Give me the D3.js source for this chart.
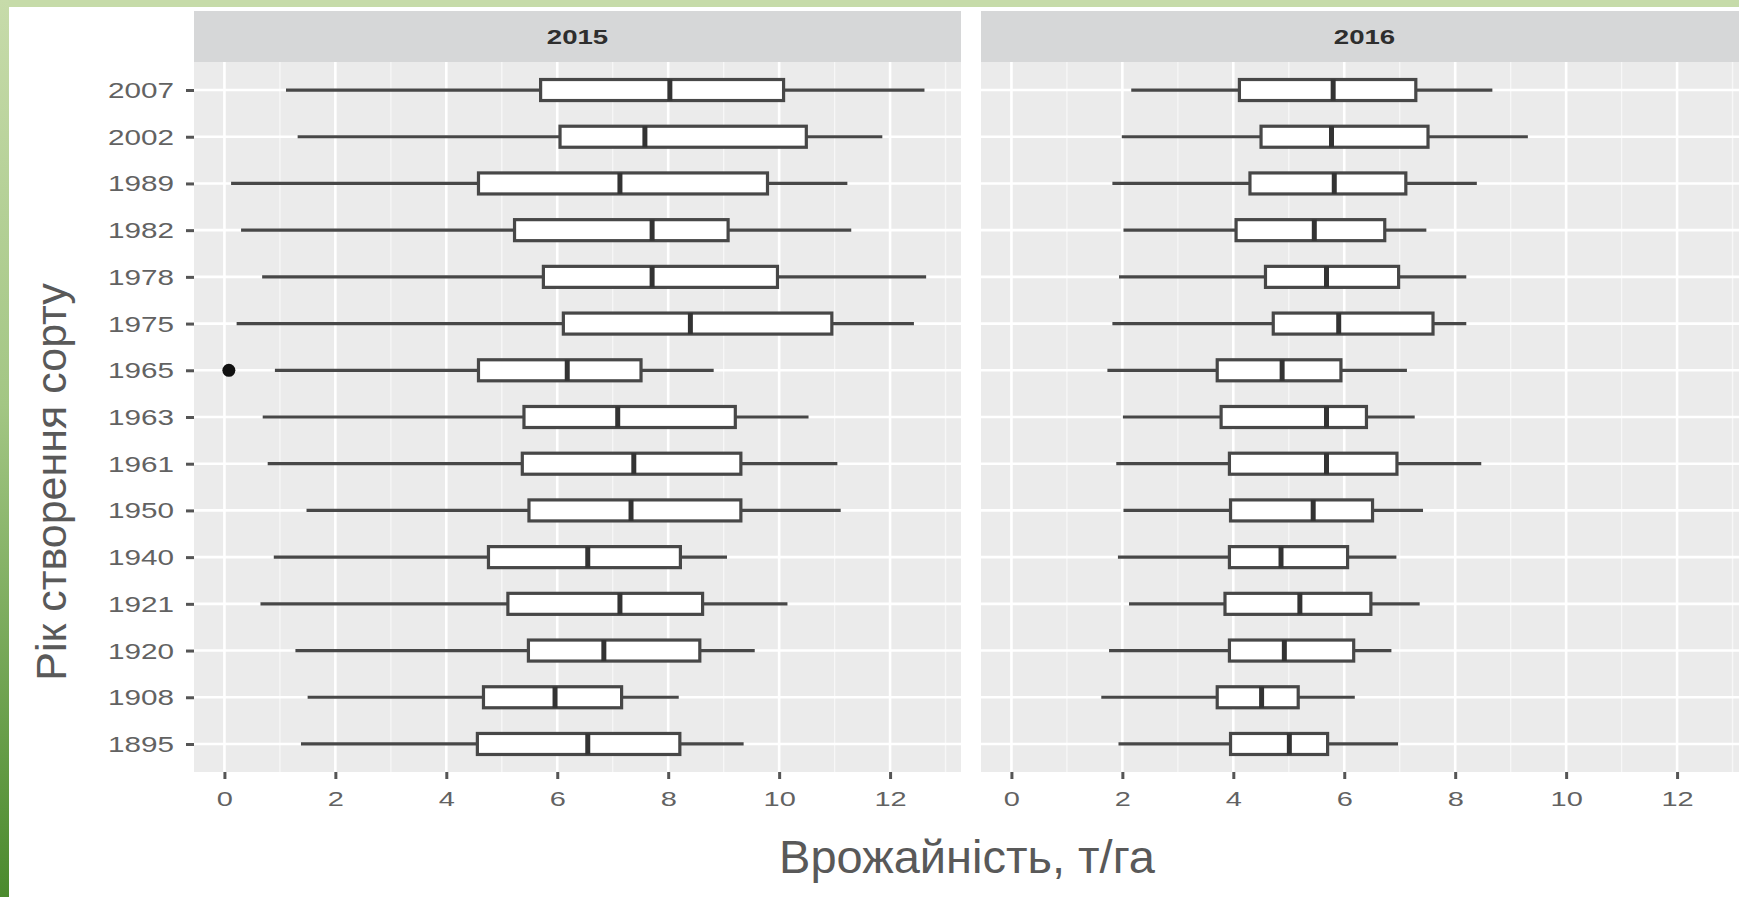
<!DOCTYPE html>
<html>
<head>
<meta charset="utf-8">
<script src="https://cdn.jsdelivr.net/npm/d3@7"></script>
<style>
  html, body { margin: 0; padding: 0; background: #ffffff; overflow: hidden; }
  svg { display: block; }
</style>
</head>
<body>
<svg id="chart" width="1739" height="897"></svg>
<script>
// Varieties by year of release, top to bottom
const varieties = ["2007", "2002", "1989", "1982", "1978", "1975", "1965", "1963",
                   "1961", "1950", "1940", "1921", "1920", "1908", "1895"];

// 2015 season: whisker ends, quartiles and medians (t/ha)
const low2015    = [1.11, 1.32, 0.12, 0.30, 0.68, 0.22, 0.91, 0.69, 0.78, 1.48, 0.89, 0.65, 1.28, 1.50, 1.38];
const q1_2015    = [5.70, 6.05, 4.58, 5.23, 5.75, 6.11, 4.58, 5.40, 5.37, 5.49, 4.76, 5.11, 5.48, 4.67, 4.56];
const median2015 = [8.03, 7.58, 7.13, 7.71, 7.71, 8.40, 6.18, 7.09, 7.38, 7.33, 6.55, 7.13, 6.84, 5.96, 6.55];
const q3_2015    = [10.08, 10.49, 9.79, 9.08, 9.97, 10.95, 7.51, 9.21, 9.31, 9.31, 8.22, 8.62, 8.57, 7.16, 8.21];
const high2015   = [12.62, 11.86, 11.23, 11.30, 12.65, 12.43, 8.82, 10.53, 11.05, 11.11, 9.06, 10.15, 9.56, 8.19, 9.36];
const outlierVariety2015 = ["1965"];
const outlierValue2015   = [0.08];

// 2016 season
const low2016    = [2.16, 1.99, 1.82, 2.02, 1.94, 1.82, 1.73, 2.01, 1.89, 2.02, 1.92, 2.12, 1.76, 1.62, 1.93];
const q1_2016    = [4.11, 4.50, 4.30, 4.05, 4.58, 4.72, 3.71, 3.78, 3.93, 3.95, 3.93, 3.85, 3.93, 3.71, 3.95];
const median2016 = [5.80, 5.77, 5.82, 5.46, 5.68, 5.90, 4.88, 5.68, 5.68, 5.44, 4.86, 5.20, 4.92, 4.51, 5.01];
const q3_2016    = [7.29, 7.51, 7.11, 6.73, 6.98, 7.60, 5.94, 6.40, 6.95, 6.51, 6.06, 6.48, 6.17, 5.17, 5.70];
const high2016   = [8.67, 9.31, 8.39, 7.48, 8.20, 8.20, 7.13, 7.27, 8.47, 7.42, 6.94, 7.36, 6.85, 6.19, 6.97];
const outlierVariety2016 = [];
const outlierValue2016   = [];

const facetLabels = ["2015", "2016"];
const xTicks = [0, 2, 4, 6, 8, 10, 12];
const xMinorTicks = [1, 3, 5, 7, 9, 11, 13];
const xTitle = "Врожайність, т/га";
const yTitle = "Рік створення сорту";

// ---- assemble per-facet records ----
function buildFacet(label, lo, q1, med, q3, hi, outV, outX) {
  return {
    label,
    boxes: varieties.map((v, i) => ({ variety: v, lo: lo[i], q1: q1[i], med: med[i], q3: q3[i], hi: hi[i] })),
    outliers: outV.map((v, i) => ({ variety: v, value: outX[i] }))
  };
}
const facets = [
  buildFacet(facetLabels[0], low2015, q1_2015, median2015, q3_2015, high2015, outlierVariety2015, outlierValue2015),
  buildFacet(facetLabels[1], low2016, q1_2016, median2016, q3_2016, high2016, outlierVariety2016, outlierValue2016)
];

// ---- layout ----
const W = 1739, H = 897;
const stripTop = 11, panelTop = 62, panelBottom = 772;
const panelX = [[194, 961], [981, 1748]];
const textStretch = 1.38;   // ggplot text in this figure is drawn horizontally widened

const svg = d3.select("#chart");

// slide frame: light top band and green left band
const defs = svg.append("defs");
const grad = defs.append("linearGradient").attr("id", "frameGrad")
  .attr("x1", 0).attr("y1", 0).attr("x2", 0).attr("y2", 1);
grad.append("stop").attr("offset", "0%").attr("stop-color", "#c7dbaa");
grad.append("stop").attr("offset", "45%").attr("stop-color", "#a3c684");
grad.append("stop").attr("offset", "100%").attr("stop-color", "#4b8a2d");
svg.append("rect").attr("x", 0).attr("y", 0).attr("width", W).attr("height", 7).attr("fill", "#c6dba9");
svg.append("rect").attr("x", 0).attr("y", 0).attr("width", 9).attr("height", H).attr("fill", "url(#frameGrad)");

// shared x domain with 5% expansion, as in facet plots with a common scale
const allVals = [];
facets.forEach(f => {
  f.boxes.forEach(b => allVals.push(b.lo, b.hi));
  f.outliers.forEach(o => allVals.push(o.value));
});
const [vmin, vmax] = d3.extent(allVals);
const pad = (vmax - vmin) * 0.05;
const xDomain = [vmin - pad, vmax + pad];

const y = d3.scalePoint().domain(varieties).range([panelTop, panelBottom]).padding(0.6);
const boxH = y.step() * 0.45;

const lineCol = "#474747";
const labelFont = "'Liberation Sans', Arial, sans-serif";

facets.forEach((f, fi) => {
  const [x0, x1] = panelX[fi];
  const x = d3.scaleLinear().domain(xDomain).range([x0, x1]);
  const g = svg.append("g");

  // panel background
  g.append("rect").attr("x", x0).attr("y", panelTop)
    .attr("width", x1 - x0).attr("height", panelBottom - panelTop).attr("fill", "#ebebeb");

  // minor vertical grid
  g.selectAll(".minor").data(xMinorTicks.filter(t => t > xDomain[0] && t < xDomain[1]))
    .join("line").attr("x1", d => x(d)).attr("x2", d => x(d))
    .attr("y1", panelTop).attr("y2", panelBottom)
    .attr("stroke", "#f7f7f7").attr("stroke-width", 1.3);
  // major vertical grid
  g.selectAll(".major").data(xTicks)
    .join("line").attr("x1", d => x(d)).attr("x2", d => x(d))
    .attr("y1", panelTop).attr("y2", panelBottom)
    .attr("stroke", "#ffffff").attr("stroke-width", 2.6);
  // horizontal grid at each variety
  g.selectAll(".hgrid").data(varieties)
    .join("line").attr("x1", x0).attr("x2", x1)
    .attr("y1", d => y(d)).attr("y2", d => y(d))
    .attr("stroke", "#ffffff").attr("stroke-width", 2.6);

  // whiskers
  g.selectAll(".wlo").data(f.boxes).join("line")
    .attr("x1", d => x(d.lo)).attr("x2", d => x(d.q1))
    .attr("y1", d => y(d.variety)).attr("y2", d => y(d.variety))
    .attr("stroke", lineCol).attr("stroke-width", 3.2);
  g.selectAll(".whi").data(f.boxes).join("line")
    .attr("x1", d => x(d.q3)).attr("x2", d => x(d.hi))
    .attr("y1", d => y(d.variety)).attr("y2", d => y(d.variety))
    .attr("stroke", lineCol).attr("stroke-width", 3.2);

  // boxes
  g.selectAll(".box").data(f.boxes).join("rect")
    .attr("x", d => x(d.q1)).attr("width", d => x(d.q3) - x(d.q1))
    .attr("y", d => y(d.variety) - boxH / 2).attr("height", boxH)
    .attr("fill", "#ffffff").attr("stroke", lineCol).attr("stroke-width", 3.2);

  // medians
  g.selectAll(".med").data(f.boxes).join("line")
    .attr("x1", d => x(d.med)).attr("x2", d => x(d.med))
    .attr("y1", d => y(d.variety) - boxH / 2).attr("y2", d => y(d.variety) + boxH / 2)
    .attr("stroke", "#333333").attr("stroke-width", 5);

  // outliers
  g.selectAll(".out").data(f.outliers).join("circle")
    .attr("cx", d => x(d.value)).attr("cy", d => y(d.variety)).attr("r", 6.5)
    .attr("fill", "#111111");

  // facet strip
  g.append("rect").attr("x", x0).attr("y", stripTop)
    .attr("width", x1 - x0).attr("height", panelTop - stripTop).attr("fill", "#d6d7d8");
  g.append("text")
    .attr("transform", `translate(${(x0 + x1) / 2},${(stripTop + panelTop) / 2 + 7}) scale(${textStretch},1)`)
    .attr("text-anchor", "middle")
    .attr("font-family", labelFont).attr("font-size", 20).attr("font-weight", "bold")
    .attr("fill", "#2e2e2e").text(f.label);

  // bottom axis
  const ax = g.append("g").attr("transform", `translate(0,${panelBottom})`)
    .call(d3.axisBottom(x).tickValues(xTicks).tickSize(7).tickFormat(d3.format("d")));
  ax.select(".domain").remove();
  ax.selectAll(".tick line").attr("stroke", "#555").attr("stroke-width", 3);
  ax.selectAll(".tick text")
    .attr("y", null).attr("dy", null)
    .attr("transform", `translate(0,34) scale(${textStretch},1)`)
    .attr("font-family", labelFont).attr("font-size", 21).attr("fill", "#626262");

  // left axis only on the first facet
  if (fi === 0) {
    const ay = g.append("g").attr("transform", `translate(${x0},0)`)
      .call(d3.axisLeft(y).tickSize(8));
    ay.select(".domain").remove();
    ay.selectAll(".tick line").attr("stroke", "#555").attr("stroke-width", 3);
    ay.selectAll(".tick text")
      .attr("x", null).attr("dy", null)
      .attr("transform", `translate(-20,7.5) scale(${textStretch},1)`)
      .attr("text-anchor", "end")
      .attr("font-family", labelFont).attr("font-size", 21.5).attr("fill", "#626262");
  }
});

// axis titles
svg.append("text")
  .attr("x", 967).attr("y", 873).attr("text-anchor", "middle")
  .attr("font-family", labelFont).attr("font-size", 47).attr("fill", "#595959")
  .text(xTitle);
svg.append("text")
  .attr("transform", "translate(66,482) rotate(-90)").attr("text-anchor", "middle")
  .attr("font-family", labelFont).attr("font-size", 43).attr("fill", "#595959")
  .text(yTitle);
</script>
</body>
</html>
